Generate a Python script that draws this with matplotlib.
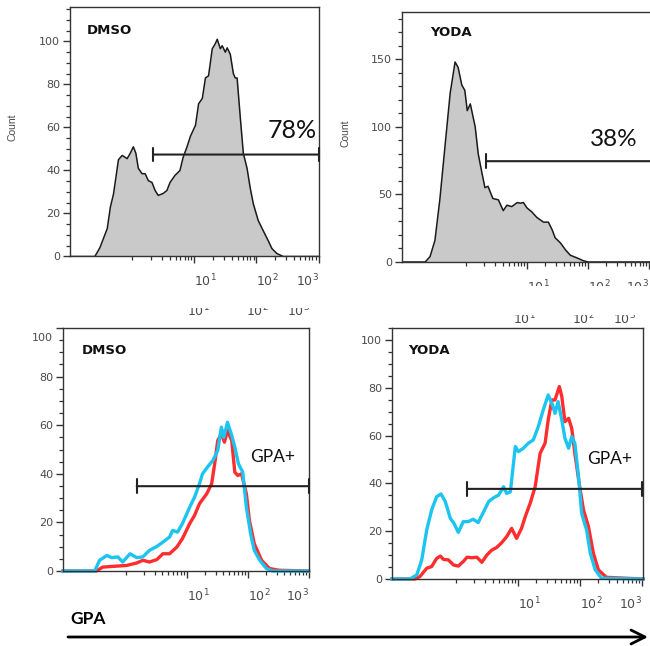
import numpy as np
import matplotlib
matplotlib.use("Agg")
import matplotlib.pyplot as plt
from matplotlib.patches import Rectangle, FancyArrowPatch
from matplotlib.ticker import FixedLocator, NullFormatter
from matplotlib.transforms import ScaledTranslation

plt.rcParams["font.family"] = ["DejaVu Sans"]
plt.rcParams["mathtext.default"] = "regular"

# ---------------- data (x given as log10 of GPA intensity) ----------------
dmso_top_log = [-1.0, -0.60, -0.52, -0.40, -0.35, -0.30, -0.22, -0.16, -0.08, -0.03,
                0.02, 0.06, 0.10, 0.16, 0.21, 0.26, 0.32, 0.37, 0.42, 0.50,
                0.56, 0.61, 0.69, 0.77, 0.82, 0.88, 0.94, 1.02, 1.07, 1.13,
                1.18, 1.23, 1.29, 1.34, 1.37, 1.42, 1.45, 1.50, 1.53, 1.58,
                1.63, 1.66, 1.69, 1.74, 1.79, 1.85, 1.90, 1.95, 2.03, 2.11,
                2.19, 2.25, 2.33, 2.43, 3.0]
dmso_top_count = [0, 0, 4, 13, 23, 29, 45, 47, 45.5, 48,
                  51, 48, 41, 38.5, 38.5, 35.3, 34.4, 30.7, 28.4, 29.3,
                  30.7, 34.4, 37.7, 40, 46, 50.7, 56, 61, 71, 73.5,
                  83, 84, 96.6, 99, 101, 96.6, 98, 95, 97, 94,
                  85, 83, 83, 65, 48, 41, 32, 24.6, 16.7, 12,
                  7.4, 3.7, 1.4, 0, 0]

yoda_top_log = [-1.05, -0.67, -0.59, -0.51, -0.43, -0.34, -0.26, -0.18, -0.13, -0.07,
                -0.02, 0.02, 0.07, 0.15, 0.20, 0.26, 0.31, 0.36, 0.44, 0.53,
                0.61, 0.67, 0.75, 0.84, 0.89, 0.94, 1.00, 1.08, 1.16, 1.27,
                1.35, 1.41, 1.46, 1.55, 1.63, 1.71, 1.82, 1.92, 2.00, 3.2]
yoda_top_count = [0, 0, 4, 16, 46, 88, 125, 148, 144, 131,
                  127, 112, 117, 100, 80, 66, 55, 56, 47, 46,
                  38, 42, 41, 44, 43.5, 44, 40, 37, 33, 29.5,
                  29.5, 24, 18, 14, 9, 5, 3, 1, 0, 0]

dmso_red_log = [-1.03, -0.48, -0.38, -0.21, 0.02, 0.18, 0.28, 0.39, 0.51, 0.61,
                0.72, 0.84, 0.93, 1.05, 1.13, 1.21, 1.33, 1.41, 1.46, 1.51,
                1.57, 1.62, 1.67, 1.74, 1.79, 1.84, 1.90, 1.98, 2.03, 2.11,
                2.23, 2.36, 2.52, 3.0]
dmso_red_count = [0, 0, 1.6, 1.9, 2.3, 3.3, 4.4, 3.7, 4.7, 7.1,
                  7.1, 9.9, 13.3, 19.5, 22.9, 27.7, 31.8, 35.9, 44.1, 53.7,
                  56.4, 53, 57.8, 53.7, 40.7, 39.3, 40, 31.8, 20.8, 11.2,
                  4.4, 1, 0.3, 0]

dmso_blue_log = [-1.03, -0.51, -0.43, -0.31, -0.23, -0.13, -0.05, 0.07, 0.18, 0.28,
                 0.39, 0.51, 0.61, 0.72, 0.77, 0.85, 0.93, 1.05, 1.13, 1.21,
                 1.26, 1.34, 1.43, 1.51, 1.57, 1.61, 1.67, 1.74, 1.79, 1.85,
                 1.92, 1.98, 2.05, 2.11, 2.20, 2.31, 2.41, 3.0]
dmso_blue_count = [0, 0, 4.4, 6.4, 5.5, 5.8, 3.7, 7.1, 5.5, 5.8,
                   8.5, 10.1, 11.9, 14, 16.7, 16, 19.5, 26.3, 30.4, 35.9,
                   40, 42.7, 45.5, 49.6, 59.2, 55, 61.2, 55.8, 51, 44.1,
                   40.7, 26.3, 15.3, 8.5, 4.4, 1, 0, 0]

yoda_red_log = [-1.03, -0.66, -0.58, -0.47, -0.39, -0.31, -0.25, -0.20, -0.12, -0.04,
                0.04, 0.12, 0.18, 0.26, 0.34, 0.42, 0.50, 0.58, 0.66, 0.74,
                0.82, 0.90, 0.98, 1.06, 1.12, 1.20, 1.28, 1.36, 1.44, 1.49,
                1.55, 1.60, 1.67, 1.71, 1.76, 1.82, 1.87, 1.92, 1.99, 2.06,
                2.14, 2.22, 2.30, 2.43, 3.02]
yoda_red_count = [0, 0, 1, 4.5, 5.2, 8.6, 9.6, 8.2, 8, 5.9,
                  5.4, 7.3, 9.1, 8.9, 9.1, 7, 10, 12.1, 13.2, 15.2,
                  17.7, 21.2, 17, 21.2, 26.1, 31.7, 38.6, 52.6, 56.8, 66.5,
                  74.9, 74.9, 80.5, 76.3, 65.8, 67.2, 63, 52.6, 40, 28.9,
                  21.9, 10.7, 3.8, 0.7, 0]

yoda_blue_log = [-1.03, -0.74, -0.63, -0.55, -0.47, -0.39, -0.31, -0.24, -0.17, -0.09,
                 -0.03, 0.04, 0.12, 0.20, 0.28, 0.36, 0.45, 0.53, 0.61, 0.69,
                 0.77, 0.82, 0.88, 0.96, 1.01, 1.09, 1.17, 1.25, 1.33, 1.41,
                 1.49, 1.56, 1.60, 1.65, 1.71, 1.76, 1.82, 1.87, 1.92, 1.98,
                 2.03, 2.11, 2.17, 2.25, 2.35, 3.02]
yoda_blue_count = [0, 0, 1.7, 8, 20.5, 28.9, 34.4, 35.6, 32.4, 25.4,
                   23.3, 19.5, 24, 24, 25, 23.6, 28.2, 32.4, 34, 35.1,
                   38.6, 35.8, 36.5, 55.4, 53.3, 54.7, 56.8, 58.2, 63.7, 70.7,
                   77, 72.8, 69.3, 74.2, 66.5, 58.9, 54.7, 59.6, 56.8, 42.8,
                   27.5, 20.5, 10.7, 3.8, 0.3, 0]

# gates: (start log10, end log10, height, label)
dmso_top_gate = (0.34, 3.0, 47.4, "78%")
yoda_top_gate = (0.33, 3.3, 74.6, "38%")
dmso_bottom_gate = (0.18, 3.0, 34.9, "GPA+")
yoda_bottom_gate = (0.18, 3.0, 37.7, "GPA+")

decade_ticks = [10, 100, 1000]
decade_labels = [r"$\mathregular{10^{1}}$", r"$\mathregular{10^{2}}$", r"$\mathregular{10^{3}}$"]
minor_decade_ticks = [m * 10.0 ** e for e in range(3) for m in range(1, 10) if not (m == 1 and e > 0)]

count_ticks_100 = [0, 20, 40, 60, 80, 100]
count_ticks_150 = [0, 50, 100, 150]

RED = "#ff2d2d"
BLUE = "#1cc4f0"
FILL = "#c9c9c9"
INK = "#222222"
LABEL_GREY = "#4a4a4a"

# ---------------- layout ----------------
W, H = 650, 646
fig = plt.figure(figsize=(W / 100, H / 100), dpi=100)


def px_box(left, top, right, bottom):
    return [left / W, 1 - bottom / H, (right - left) / W, (bottom - top) / H]


def fxy(x, y):
    return x / W, 1 - y / H


def style_axes(ax, xlim_log, ylim, ymajor, ystep, show_right=True):
    ax.set_xscale("log")
    ax.set_xlim(10 ** xlim_log[0], 10 ** xlim_log[1])
    ax.set_ylim(*ylim)
    ax.set_xticks(decade_ticks, decade_labels)
    ax.xaxis.set_minor_locator(FixedLocator(minor_decade_ticks))
    ax.xaxis.set_minor_formatter(NullFormatter())
    for lab, ha in zip(ax.get_xticklabels(), ["left", "left", "right"]):
        lab.set_horizontalalignment(ha)
    ax.set_yticks(ymajor, [str(v) for v in ymajor])
    ax.yaxis.set_minor_locator(FixedLocator(np.arange(0, ylim[1] + 0.01, ystep)))
    ax.tick_params(which="major", direction="out", length=5.0, width=1.0,
                   color="#333333", labelcolor=LABEL_GREY)
    ax.tick_params(which="minor", direction="out", length=2.6, width=0.9, color="#333333")
    ax.tick_params(axis="x", which="major", labelsize=9, pad=7)
    ax.tick_params(axis="y", which="major", labelsize=8, pad=2)
    for side, sp in ax.spines.items():
        sp.set_color("#333333")
        sp.set_linewidth(1.0)
    ax.spines["right"].set_visible(show_right)
    ax.patch.set_alpha(0)


def draw_gate(ax, gate, text_xy, fontsize):
    x0, x1, h, label = gate
    ax.annotate("", xy=(10 ** x1, h), xytext=(10 ** x0, h),
                arrowprops=dict(arrowstyle="|-|,widthA=0.5,widthB=0.5", lw=1.5,
                                color=INK, shrinkA=0, shrinkB=0),
                annotation_clip=False)
    fig.text(*fxy(*text_xy), label, family=["Lato", "DejaVu Sans"], fontsize=fontsize,
             color="#111111", ha="left", va="center")


# top-left: DMSO histogram
ax1 = fig.add_axes(px_box(70, 7, 318.5, 256.5))
style_axes(ax1, (-1.0, 3.0), (0, 116), count_ticks_100, 5)
x = 10 ** np.array(dmso_top_log)
ax1.fill_between(x, dmso_top_count, 0, color=FILL, lw=0)
ax1.plot(x, dmso_top_count, color="#1a1a1a", lw=1.1)
draw_gate(ax1, dmso_top_gate, (268, 131), 18)

# top-right: YODA histogram
ax2 = fig.add_axes(px_box(402, 12, 660, 262))
style_axes(ax2, (-1.05, 3.18), (0, 185), count_ticks_150, 10, show_right=False)
x = 10 ** np.array(yoda_top_log)
ax2.fill_between(x, yoda_top_count, 0, color=FILL, lw=0)
ax2.plot(x, yoda_top_count, color="#1a1a1a", lw=1.1)
draw_gate(ax2, yoda_top_gate, (590, 139), 17.5)

# bottom-left: DMSO overlay
ax3 = fig.add_axes(px_box(63, 328, 308.5, 571))
style_axes(ax3, (-1.03, 2.99), (0, 100), count_ticks_100, 5)
ax3.plot(10 ** np.array(dmso_red_log), dmso_red_count, color=RED, lw=2.4,
         solid_joinstyle="round", clip_on=False)
ax3.plot(10 ** np.array(dmso_blue_log), dmso_blue_count, color=BLUE, lw=2.4,
         solid_joinstyle="round", clip_on=False)
draw_gate(ax3, dmso_bottom_gate, (250, 457), 12.5)
for lab in ax3.get_yticklabels():
    if lab.get_text() == "100":
        lab.set_transform(lab.get_transform() + ScaledTranslation(0, -0.09, fig.dpi_scale_trans))

# bottom-right: YODA overlay
ax4 = fig.add_axes(px_box(392, 328, 643, 579))
style_axes(ax4, (-1.03, 3.02), (0, 105), count_ticks_100, 5)
ax4.plot(10 ** np.array(yoda_red_log), yoda_red_count, color=RED, lw=2.4,
         solid_joinstyle="round", clip_on=False)
ax4.plot(10 ** np.array(yoda_blue_log), yoda_blue_count, color=BLUE, lw=2.4,
         solid_joinstyle="round", clip_on=False)
draw_gate(ax4, yoda_bottom_gate, (587, 459), 12.5)

# panel titles
for (px, py, name) in [(87, 31, "DMSO"), (430, 32, "YODA"), (82, 350, "DMSO"), (408, 350, "YODA")]:
    fig.text(*fxy(px, py), name, fontsize=9.5, fontweight="bold", color="#111111",
             ha="left", va="center")

# y-axis titles
fig.text(*fxy(12, 127), "Count", rotation=90, fontsize=7.5, color=LABEL_GREY,
         family=["Liberation Sans", "DejaVu Sans"], ha="center", va="center")
fig.text(*fxy(346, 133), "Count", rotation=90, fontsize=7.5, color=LABEL_GREY,
         family=["Liberation Sans", "DejaVu Sans"], ha="center", va="center")

# second rows of decade labels, partly hidden behind the panel backgrounds
for (px, lab) in zip([187, 246, 287], decade_labels):
    fig.text(*fxy(px, 316), lab, fontsize=9, color=LABEL_GREY, ha="left", va="baseline", zorder=3)
for (px, lab) in zip([513, 572, 613], decade_labels):
    fig.text(*fxy(px, 324), lab, fontsize=9, color=LABEL_GREY, ha="left", va="baseline", zorder=3)

for (l, t, r, b) in [(140, 290, 330, 308), (395, 286, 650, 315)]:
    fig.add_artist(Rectangle(fxy(l, b), (r - l) / W, (b - t) / H, transform=fig.transFigure,
                             facecolor="white", edgecolor="none", zorder=10))

# GPA axis arrow
fig.text(*fxy(70, 619), "GPA", fontsize=12.5, fontweight="bold", family=["Lato", "DejaVu Sans"],
         color="black", ha="left", va="center")
fig.add_artist(FancyArrowPatch(fxy(68, 637), fxy(648, 637), transform=fig.transFigure,
                               arrowstyle="->,head_length=1.0,head_width=0.5", mutation_scale=10,
                               lw=2.0, color="black", shrinkA=0, shrinkB=0))

fig.savefig("out.png", dpi=100, facecolor="white")
